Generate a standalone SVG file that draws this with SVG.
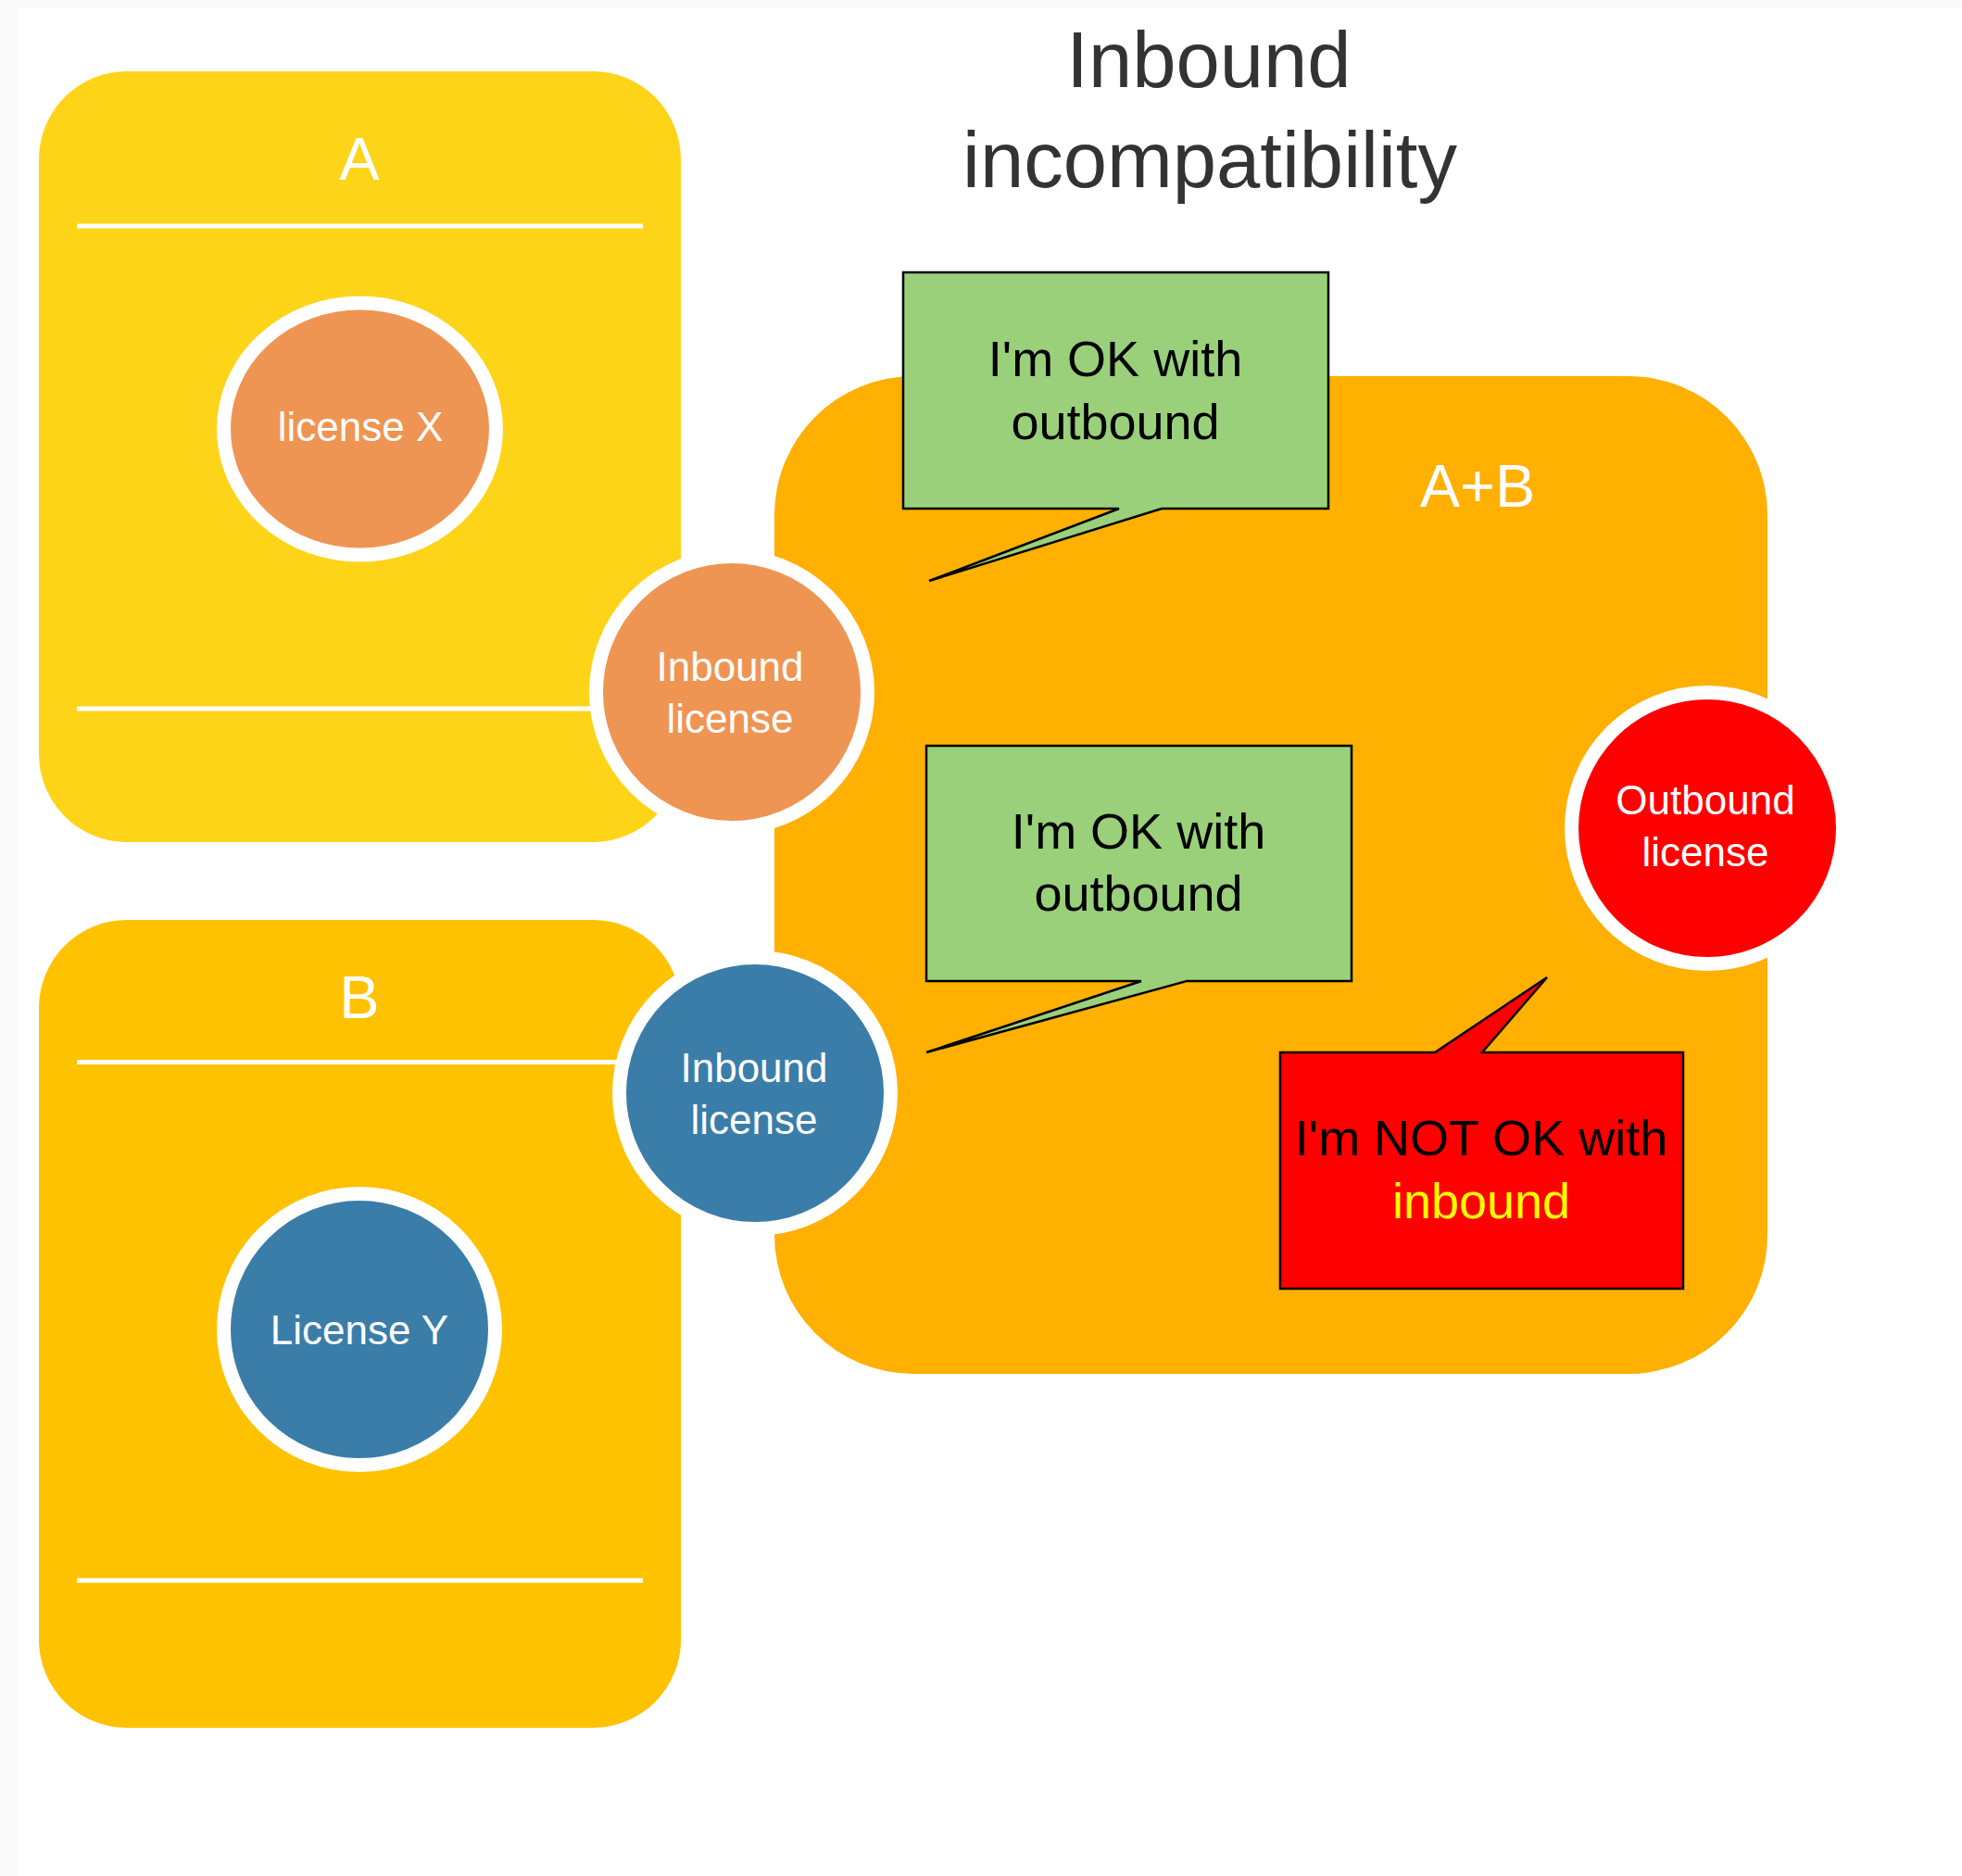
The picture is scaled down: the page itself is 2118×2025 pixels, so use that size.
<svg xmlns="http://www.w3.org/2000/svg" width="2118" height="2025" viewBox="0 0 2118 2025">
<style>
text{font-family:"Liberation Sans",Arial,sans-serif;text-anchor:middle}
.title{font-size:85px;fill:#333333}
.label{font-size:65px;fill:#ffffff}
.ctext{font-size:44px;fill:#ffffff}
.btext{font-size:54px;fill:#000000}
.div{stroke:#ffffff;stroke-width:5;fill:none}
.ring{stroke:#ffffff;stroke-width:15}
.callout{stroke:#000000;stroke-width:2.5;stroke-linejoin:miter}
</style>
<rect x="0" y="0" width="2118" height="2025" fill="#fafafa"/>
<rect x="20" y="8" width="2098" height="2017" fill="#ffffff"/>

<g id="title">
<text class="title" x="1305" y="94">Inbound</text>
<text class="title" x="1306" y="202">incompatibility</text>
</g>

<g id="box-A">
<rect x="42" y="77" width="693" height="832" rx="95" ry="95" fill="#fed419"/>
<text class="label" x="388" y="194">A</text>
<line class="div" x1="83" y1="244" x2="694" y2="244"/>
<line class="div" x1="83" y1="765" x2="660" y2="765"/>
</g>

<g id="box-B">
<rect x="42" y="993" width="693" height="872" rx="95" ry="95" fill="#ffc200"/>
<text class="label" x="388" y="1099">B</text>
<line class="div" x1="83" y1="1146.5" x2="680" y2="1146.5"/>
<line class="div" x1="83" y1="1706" x2="694" y2="1706"/>
</g>

<g id="box-AB">
<rect x="836" y="406" width="1072" height="1077" rx="150" ry="150" fill="#ffb000"/>
<text class="label" x="1595" y="547">A+B</text>
</g>

<g id="license-X">
<ellipse class="ring" cx="388.5" cy="463" rx="147" ry="136" fill="#ef9553"/>
<text class="ctext" x="389" y="476">license X</text>
</g>

<g id="license-Y">
<circle class="ring" cx="388" cy="1435" r="146.5" fill="#3a7da9"/>
<text class="ctext" x="388" y="1451">License Y</text>
</g>

<g id="inbound-A">
<circle class="ring" cx="790" cy="747" r="146.5" fill="#ef9553"/>
<text class="ctext" x="788" y="735">Inbound</text>
<text class="ctext" x="788" y="791">license</text>
</g>

<g id="inbound-B">
<circle class="ring" cx="815" cy="1180" r="146.5" fill="#3a7da9"/>
<text class="ctext" x="814" y="1168">Inbound</text>
<text class="ctext" x="814" y="1224">license</text>
</g>

<g id="outbound">
<circle class="ring" cx="1843" cy="894" r="146.5" fill="#ff0000"/>
<text class="ctext" x="1841" y="879">Outbound</text>
<text class="ctext" x="1841" y="935">license</text>
</g>

<g id="connectors"></g>

<g id="callout-1">
<path class="callout" d="M975,294 H1434 V549 H1254 L1003,627 L1208,549 H975 Z" fill="#9ad07a"/>
<text class="btext" x="1204" y="406">I'm OK with</text>
<text class="btext" x="1204" y="474">outbound</text>
</g>

<g id="callout-2">
<path class="callout" d="M1000,805 H1459 V1059 H1281 L1000,1136 L1232,1059 H1000 Z" fill="#9ad07a"/>
<text class="btext" x="1229" y="916">I'm OK with</text>
<text class="btext" x="1229" y="983">outbound</text>
</g>

<g id="callout-3">
<path class="callout" d="M1382,1136 H1549 L1670,1055 L1600,1136 H1817 V1391 H1382 Z" fill="#ff0000"/>
<text class="btext" x="1599" y="1247">I'm NOT OK with</text>
<text class="btext" x="1599" y="1315" fill="#ffff00" style="fill:#ffff00">inbound</text>
</g>
</svg>
